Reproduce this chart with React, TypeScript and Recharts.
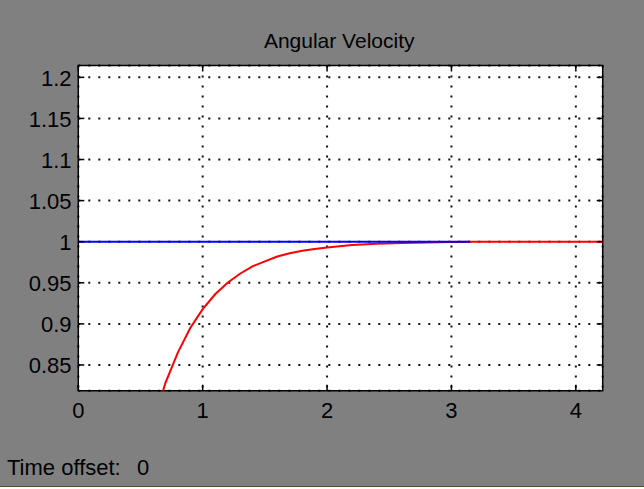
import React from 'react';
import { LineChart, Line, XAxis, YAxis, CartesianGrid, ReferenceArea } from 'recharts';

// Scope window: angular velocity reference (blue) and measured response (red)
const W = 644;
const H = 489;
const PLOT = { left: 78.3, top: 65.5, right: 602.7, bottom: 390.7 };
const FONT = '"Liberation Sans", Arial, Helvetica, sans-serif';
const BG = '#808080';

const X_DOMAIN: [number, number] = [0, 4.216];
const Y_DOMAIN: [number, number] = [0.8187, 1.2144];
const X_TICKS = [0, 1, 2, 3, 4];
const Y_TICKS = [0.85, 0.9, 0.95, 1, 1.05, 1.1, 1.15, 1.2];

// measured response
const RESPONSE_T = [0, 0.1, 0.2, 0.3, 0.4, 0.5, 0.6, 0.7, 0.8, 0.9, 1.0, 1.1, 1.2, 1.3, 1.4, 1.5, 1.6, 1.7, 1.8, 1.9, 2.0, 2.2, 2.4, 2.6, 2.8, 3.0, 3.2, 3.6, 4.0, 4.3];
const RESPONSE_V = [0, 0.221, 0.393, 0.528, 0.632, 0.713, 0.777, 0.828, 0.865, 0.895, 0.918, 0.936, 0.95, 0.961, 0.97, 0.976, 0.982, 0.986, 0.989, 0.991, 0.993, 0.996, 0.9975, 0.9985, 0.999, 0.9995, 1, 1, 1, 1];

// reference signal
const REFERENCE_T = [0, 3.15];
const REFERENCE_V = [1, 1];

const responseData = RESPONSE_T.map((t, i) => ({ t, v: RESPONSE_V[i] }));
const referenceData = REFERENCE_T.map((t, i) => ({ t, v: REFERENCE_V[i] }));

const TICK_LEN = 6;

const XTick = (props: any) => {
  const { x, payload } = props;
  return (
    <g>
      <line x1={x} x2={x} y1={PLOT.bottom} y2={PLOT.bottom - TICK_LEN} stroke="#000" strokeWidth={1.5} />
      <line x1={x} x2={x} y1={PLOT.top} y2={PLOT.top + TICK_LEN} stroke="#000" strokeWidth={1.5} />
      <text x={x} y={PLOT.bottom + 27.6} textAnchor="middle" fontFamily={FONT} fontSize={22} fill="#000">
        {String(payload.value)}
      </text>
    </g>
  );
};

const YTick = (props: any) => {
  const { y, payload } = props;
  return (
    <g>
      <line x1={PLOT.left} x2={PLOT.left + TICK_LEN} y1={y} y2={y} stroke="#000" strokeWidth={1.5} />
      <line x1={PLOT.right} x2={PLOT.right - TICK_LEN} y1={y} y2={y} stroke="#000" strokeWidth={1.5} />
      <text x={71.5} y={y + 8.3} textAnchor="end" fontFamily={FONT} fontSize={22} fill="#000">
        {String(payload.value)}
      </text>
    </g>
  );
};

export default function App() {
  const yAxisWidth = 70;
  const xAxisHeight = 30;
  return (
    <div style={{ position: 'absolute', left: 0, top: 0, width: W, height: H, background: BG, overflow: 'hidden' }}>
      <LineChart
        width={W}
        height={H}
        margin={{
          top: PLOT.top,
          right: W - PLOT.right,
          left: PLOT.left - yAxisWidth,
          bottom: H - PLOT.bottom - xAxisHeight,
        }}
      >
        <CartesianGrid fill="#ffffff" stroke="#111" strokeWidth={2} strokeDasharray="2 8" />
        <XAxis
          dataKey="t"
          type="number"
          domain={X_DOMAIN}
          ticks={X_TICKS}
          allowDataOverflow
          height={xAxisHeight}
          tickLine={false}
          axisLine={false}
          tickSize={0}
          tickMargin={0}
          tick={<XTick />}
          interval={0}
        />
        <YAxis
          dataKey="v"
          type="number"
          domain={Y_DOMAIN}
          ticks={Y_TICKS}
          allowDataOverflow
          width={yAxisWidth}
          tickLine={false}
          axisLine={false}
          tickSize={0}
          tickMargin={0}
          tick={<YTick />}
          interval={0}
        />
        <Line data={responseData} dataKey="v" type="linear" stroke="#ff0000" strokeWidth={2} dot={false} isAnimationActive={false} />
        <Line data={referenceData} dataKey="v" type="linear" stroke="#0000ff" strokeWidth={2} dot={false} isAnimationActive={false} />
        <ReferenceArea x1={X_DOMAIN[0]} x2={X_DOMAIN[1]} y1={Y_DOMAIN[0]} y2={Y_DOMAIN[1]} fill="none" stroke="#000" strokeWidth={1.5} ifOverflow="visible" />
      </LineChart>
      <svg width={W} height={H} style={{ position: 'absolute', left: 0, top: 0, pointerEvents: 'none' }}>
        <text x={339.2} y={47.7} textAnchor="middle" fontFamily={FONT} fontSize={21} fill="#000">
          Angular Velocity
        </text>
        <text x={7} y={475} fontFamily={FONT} fontSize={22} fill="#000">
          Time offset:
        </text>
        <text x={137} y={475} fontFamily={FONT} fontSize={22} fill="#000">
          0
        </text>
        {/* window frame edge along the bottom */}
        <rect x={0} y={486} width={W} height={1} fill="#5a4a32" />
        <rect x={0} y={487} width={W} height={2} fill="#ffffff" />
      </svg>
    </div>
  );
}
